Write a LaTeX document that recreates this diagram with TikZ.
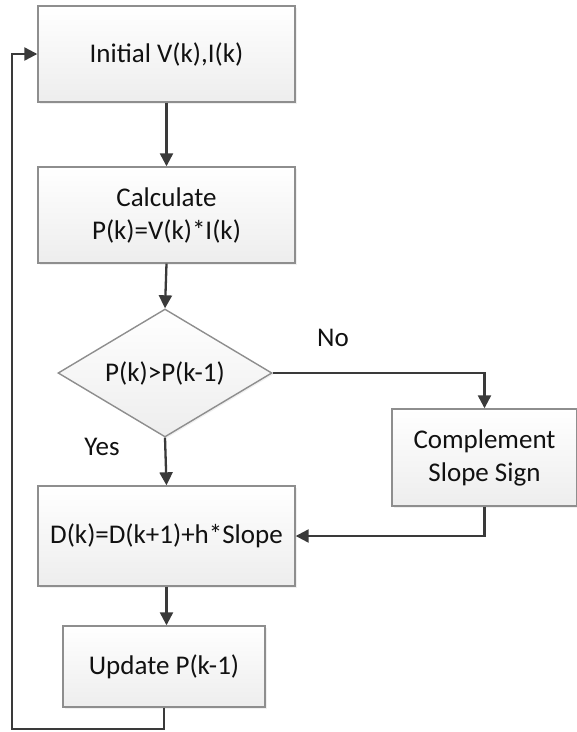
\documentclass[tikz,border=0pt]{standalone}
\usepackage{fontspec}
\setmainfont{Carlito}
\usetikzlibrary{arrows.meta,shapes.geometric,shadows}
\definecolor{lineclr}{HTML}{3A3A3A}
\definecolor{edgeclr}{HTML}{8E8E8E}
\definecolor{txtclr}{HTML}{111111}
\tikzset{
  procbox/.style={draw=edgeclr, line width=1.4pt, top color=white, bottom color=black!7,
    text=txtclr, align=center, inner sep=0pt,
    drop shadow={shadow xshift=1.5pt, shadow yshift=-1.5pt, opacity=0.12}},
  decbox/.style={procbox, shape=diamond},
  flow/.style={draw=lineclr, line width=2.3pt, -{Triangle[length=13pt,width=13pt]}},
  lbl/.style={text=txtclr, inner sep=0pt},
  every node/.append style={font=\fontsize{27}{33}\selectfont}
}
\begin{document}
\begin{tikzpicture}[x=1pt, y=-1pt]
  \useasboundingbox (0,0) rectangle (577,732);

  % process steps
  \node[procbox, minimum width=257pt, minimum height=96pt] (init) at (166.5,54) {Initial V(k),I(k)};
  \node[procbox, minimum width=257pt, minimum height=96pt] (calc) at (166.5,215) {Calculate\\P(k)=V(k)*I(k)};
  \node[decbox, minimum width=214pt, minimum height=128pt] (cmp) at (165,373) {};
  \node[lbl] (cmptxt) at (cmp.center) {P(k)>P(k-1)};
  \node[procbox, minimum width=185pt, minimum height=97pt] (comp) at (484.5,457.5) {Complement\\Slope Sign};
  \node[procbox, minimum width=257pt, minimum height=100pt] (duty) at (166.5,536) {D(k)=D(k+1)+h*Slope};
  \node[procbox, minimum width=202pt, minimum height=81pt] (upd) at (164,666.5) {Update P(k-1)};

  % branch labels
  \node[lbl] (no) at (333,338) {No};
  \node[lbl] (yes) at (102,447) {Yes};

  % loop corners
  \coordinate (c1) at (164,729);
  \coordinate (c2) at (12,729);
  \coordinate (c3) at (12,54);

  % connectors
  \draw[flow] (init.south) -- (calc.north);
  \draw[flow] (calc.south) -- (cmp.north);
  \draw[flow] (cmp.east) -| (comp.north);
  \draw[flow] (cmp.south) -- (duty.north);
  \draw[flow] (comp.south) |- (duty.east);
  \draw[flow] (duty.south) -- (duty.south |- upd.north);
  \draw[flow] (upd.south) -- (c1) -- (c2) -- (c3) -- (init.west);
\end{tikzpicture}
\end{document}
